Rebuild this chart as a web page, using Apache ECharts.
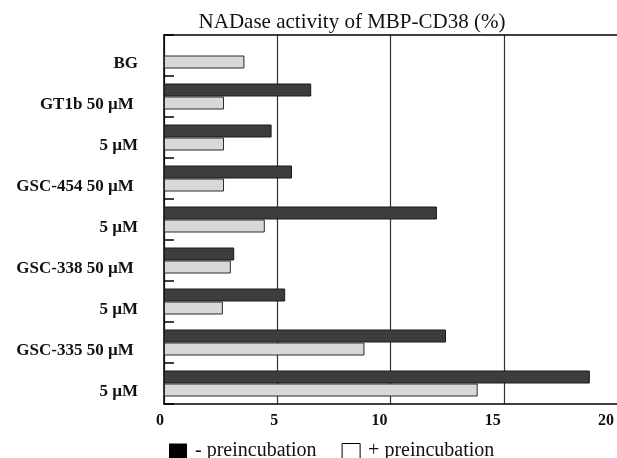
<!DOCTYPE html>
<html>
<head>
<meta charset="utf-8">
<style>
  html, body { margin: 0; padding: 0; background: #fff; }
  #chart { width: 617px; height: 458px; }
</style>
<script src="https://cdn.jsdelivr.net/npm/echarts@6/dist/echarts.min.js"></script>
</head>
<body>
<div id="chart"></div>
<script>
const categories = ['BG', 'GT1b 50 µM', '5 µM', 'GSC-454 50 µM', '5 µM', 'GSC-338 50 µM', '5 µM', 'GSC-335 50 µM', '5 µM']
const withoutPre = [null, 6.5, 4.75, 5.65, 12.05, 3.1, 5.35, 12.45, 18.8]
const withPre = [3.55, 2.65, 2.65, 2.65, 4.45, 2.95, 2.6, 8.85, 13.85]
const xTicks = [0, 5, 10, 15, 20]

const serif = '"Liberation Serif", "DejaVu Serif", serif'

// the scanned tick labels sit a little left of their grid lines
const labelShift = { 0: 8, 5: 6, 10: 22, 15: 22, 20: 22 }
const xRich = {}
xTicks.forEach(v => {
  xRich['t' + v] = {
    fontFamily: serif, fontSize: 16, fontWeight: 'bold', color: '#111',
    padding: [0, labelShift[v], 0, 0]
  }
})

const chart = echarts.init(document.getElementById('chart'))
chart.setOption({
  animation: false,
  title: {
    text: 'NADase activity of MBP-CD38 (%)',
    left: 347,
    top: 7,
    textAlign: 'center',
    textStyle: { fontFamily: serif, fontSize: 21, fontWeight: 'normal', color: '#111' }
  },
  legend: {
    left: 164,
    top: 436,
    icon: 'rect',
    itemWidth: 18,
    itemHeight: 15,
    itemGap: 25,
    textStyle: { fontFamily: serif, fontSize: 20, color: '#111', padding: [0, 0, 0, 3] },
    data: [
      { name: '- preincubation', itemStyle: { color: '#000', borderWidth: 0 } },
      { name: '+ preincubation', itemStyle: { color: '#fff', borderColor: '#000', borderWidth: 1 } }
    ]
  },
  grid: {
    left: 164,
    top: 35,
    width: 455,
    bottom: 54
  },
  xAxis: [
    {
      type: 'value',
      min: 0,
      max: 20,
      interval: 5,
      axisLine: { show: true, lineStyle: { color: '#000', width: 1.5 } },
      axisTick: { show: false },
      splitLine: { show: true, showMaxLine: false, lineStyle: { color: '#333', width: 1.2 } },
      axisLabel: {
        margin: 9,
        formatter: v => '{t' + v + '|' + v + '}',
        rich: xRich
      }
    },
    {
      // top frame line only
      type: 'value',
      position: 'top',
      min: 0,
      max: 20,
      interval: 5,
      axisLine: { show: true, lineStyle: { color: '#000', width: 1.5 } },
      axisTick: { show: false },
      axisLabel: { show: false },
      splitLine: { show: false }
    }
  ],
  yAxis: {
    type: 'category',
    inverse: true,
    data: categories,
    axisLine: { show: true, lineStyle: { color: '#000', width: 1.5 } },
    axisTick: { show: true, inside: true, length: 10, lineStyle: { color: '#000', width: 1.5 } },
    axisLabel: {
      margin: 26,
      verticalAlign: 'top',
      lineHeight: 16,
      fontFamily: serif,
      fontSize: 17,
      fontWeight: 'bold',
      color: '#111',
      formatter: v => (v.indexOf('50') >= 0 ? v + ' ' : v)
    }
  },
  series: [
    {
      name: '- preincubation',
      type: 'bar',
      data: withoutPre,
      barWidth: 13,
      barGap: '0%',
      itemStyle: { color: '#3d3d3d', borderColor: '#1a1a1a', borderWidth: 1 }
    },
    {
      name: '+ preincubation',
      type: 'bar',
      data: withPre,
      barWidth: 13,
      barGap: '0%',
      itemStyle: { color: '#d8d8d8', borderColor: '#2a2a2a', borderWidth: 1 }
    }
  ]
})
</script>
</body>
</html>
